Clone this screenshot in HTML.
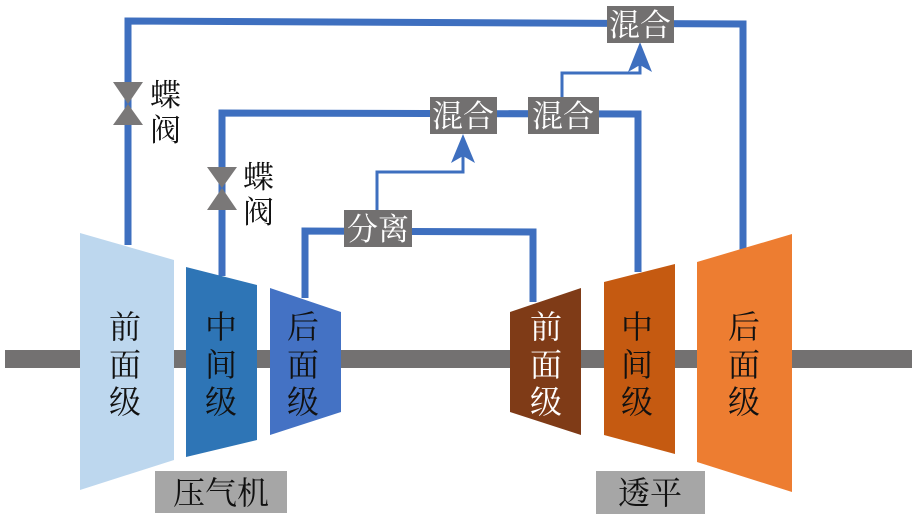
<!DOCTYPE html>
<html><head><meta charset="utf-8"><style>
html,body{margin:0;padding:0;background:#fff;}
svg{display:block;}
text{font-family:"Liberation Serif","Noto Serif CJK SC","Noto Sans CJK SC",serif;}
</style></head><body>
<svg width="920" height="528" viewBox="0 0 920 528" xmlns="http://www.w3.org/2000/svg">
<rect x="5" y="350" width="907" height="18" fill="#737171"/>
<g fill="none" stroke="#3e6fbf" stroke-width="7" stroke-linejoin="miter">
<polyline points="128,245 128,21 743,24 743,250"/>
<polyline points="222,276 222,113 638,114 638,272"/>
<polyline points="305,298 305,231 533,232 533,302"/>
</g>
<g fill="none" stroke="#3e6fbf" stroke-width="3">
<polyline points="377,212 377,172 463,172 463,150"/>
<polyline points="562,99 562,73 640,73 640,55"/>
</g>
<polygon points="463,134 451,163 463,156 475,163" fill="#3e6fbf"/>
<polygon points="640,42 628,72 640,65 652,72" fill="#3e6fbf"/>
<polygon points="113,82 143,82 128,104 143,125 113,125 128,104" fill="#7a7878"/>
<polygon points="207,167 237,167 222,188 237,210 207,210 222,188" fill="#7a7878"/>
<text x="150" y="106" font-size="31" fill="#111">蝶</text>
<text x="150" y="141" font-size="31" fill="#111">阀</text>
<text x="243" y="188" font-size="31" fill="#111">蝶</text>
<text x="243" y="223" font-size="31" fill="#111">阀</text>
<rect x="607" y="6" width="67" height="37" fill="#727070"/>
<text x="640" y="36" font-size="31" fill="#fff" text-anchor="middle">混合</text>
<rect x="430" y="97" width="67" height="37" fill="#727070"/>
<text x="463" y="127" font-size="31" fill="#fff" text-anchor="middle">混合</text>
<rect x="528" y="97" width="71" height="37" fill="#727070"/>
<text x="563" y="127" font-size="31" fill="#fff" text-anchor="middle">混合</text>
<rect x="344" y="210" width="68" height="37" fill="#727070"/>
<text x="378" y="240" font-size="31" fill="#fff" text-anchor="middle">分离</text>
<polygon points="80,233 174,260 174,460 80,490" fill="#bdd7ee"/>
<polygon points="186,267 257,285 257,440 186,457" fill="#2e75b6"/>
<polygon points="270,288 341,312 341,412 270,435" fill="#4472c4"/>
<g font-size="32" fill="#111" text-anchor="middle">
<text x="125" y="338">前</text><text x="125" y="376">面</text><text x="125" y="413">级</text>
<text x="221" y="338">中</text><text x="221" y="376">间</text><text x="221" y="413">级</text>
<text x="303" y="338">后</text><text x="303" y="376">面</text><text x="303" y="413">级</text>
</g>
<polygon points="510,312 581,288 581,435 510,412" fill="#7f3b17"/>
<polygon points="604,282 675,264 675,454 604,435" fill="#c55a11"/>
<polygon points="697,262 792,234 792,492 697,462" fill="#ed7d31"/>
<g font-size="32" text-anchor="middle">
<text x="546" y="338" fill="#fff">前</text><text x="546" y="376" fill="#fff">面</text><text x="546" y="413" fill="#fff">级</text>
<text x="637" y="338" fill="#111">中</text><text x="637" y="376" fill="#111">间</text><text x="637" y="413" fill="#111">级</text>
<text x="744" y="338" fill="#111">后</text><text x="744" y="376" fill="#111">面</text><text x="744" y="413" fill="#111">级</text>
</g>
<rect x="155" y="471" width="132" height="42" fill="#a6a6a6"/>
<text x="221" y="504" font-size="32" fill="#111" text-anchor="middle">压气机</text>
<rect x="596" y="471" width="109" height="43" fill="#a6a6a6"/>
<text x="650" y="504" font-size="32" fill="#111" text-anchor="middle">透平</text>
</svg>
</body></html>
